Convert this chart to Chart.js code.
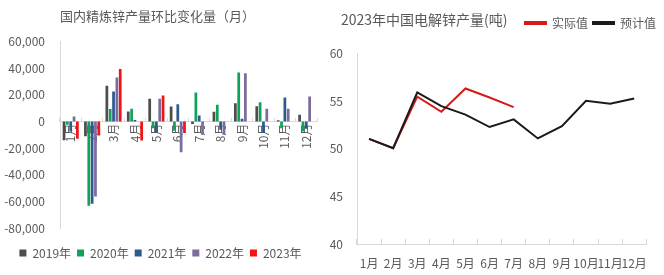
<!DOCTYPE html>
<html>
<head>
<meta charset="utf-8">
<script src="https://cdn.jsdelivr.net/npm/chart.js@4"></script>
<style>
  html, body { margin: 0; padding: 0; background: #fff; }
  #wrap { position: relative; width: 664px; height: 275px; overflow: hidden; }
  #barChart { position: absolute; left: 0; top: 0; }
  #lineChart { position: absolute; left: 330px; top: 0; }
</style>
</head>
<body>
<div id="wrap">
  <canvas id="barChart" width="330" height="275"></canvas>
  <canvas id="lineChart" width="334" height="275"></canvas>
</div>
<script>
// month-on-month change of refined zinc output (t)
const months = ['1月', '2月', '3月', '4月', '5月', '6月', '7月', '8月', '9月', '10月', '11月', '12月'];
const change2019 = [-14000, -11000, 26800, 7500, 17000, 11300, -1800, 7300, 13700, 11500, 1000, 5000];
const change2020 = [-2500, -63200, 9300, 9500, -5000, -7000, 21700, 12500, 36700, 14500, -5000, -7500];
const change2021 = [-7500, -61700, 22500, 1200, -8200, 13000, 4500, -6200, 2000, -8700, 18000, -5500];
const change2022 = [3700, -56300, 33000, 0, 17000, -23200, -10000, -10000, 36200, 9500, 9500, 18700];
const change2023 = [-13000, -10500, 39500, -14200, 19500, -8700, null, null, null, null, null, null];
const yearLabels = ['2019年', '2020年', '2021年', '2022年', '2023年'];
const yearColors = ['#4d4d4d', '#12a15a', '#2f5a8e', '#7d6b9e', '#f01414'];

// 2023 electrolytic zinc output
const actual2023 = [51.05, 50.07, 55.5, 53.9, 56.35, 55.4, 54.4, null, null, null, null, null];
const forecast2023 = [51.05, 50.07, 55.94, 54.5, 53.6, 52.3, 53.1, 51.1, 52.4, 55.05, 54.75, 55.3];

Chart.defaults.font.family = '"Noto Sans CJK SC", "Noto Sans", sans-serif';
Chart.defaults.color = '#595959';

// let the y tick labels use the space left of the title indent
const widenYScale = {
  id: 'widenYScale',
  afterLayout: function (chart) {
    chart.scales.y.left = 0;
  }
};

document.addEventListener('DOMContentLoaded', function () {
  // Grouped bar chart
  const barCtx = document.getElementById('barChart').getContext('2d');
  const series = [change2019, change2020, change2021, change2022, change2023];
  new Chart(barCtx, {
    type: 'bar',
    data: {
      labels: months,
      datasets: series.map(function (d, i) {
        return {
          label: yearLabels[i],
          data: d,
          backgroundColor: yearColors[i],
          borderWidth: 0,
          categoryPercentage: 0.78,
          barPercentage: 0.82
        };
      })
    },
    options: {
      responsive: false,
      animation: false,
      layout: { padding: { left: 4, right: 13, top: 4, bottom: 6 } },
      plugins: {
        title: {
          display: true,
          text: '国内精炼锌产量环比变化量（月）',
          align: 'start',
          fullSize: false,
          color: '#595959',
          font: { size: 13, weight: 'normal' },
          padding: { top: 4, bottom: 18 }
        },
        legend: {
          position: 'bottom',
          // empty legend title only keeps a gap above the legend row
          title: { display: true, text: '', font: { size: 10 }, padding: { top: 1, bottom: 0 } },
          labels: { boxWidth: 7, boxHeight: 7, padding: 6, font: { size: 12 }, color: '#595959' }
        },
        tooltip: { enabled: false }
      },
      scales: {
        x: {
          position: { y: 0 },
          grid: { display: true, drawOnChartArea: false, offset: true, tickLength: -4, color: '#d9d9d9' },
          border: { color: '#d9d9d9' },
          ticks: { minRotation: 90, maxRotation: 90, autoSkip: false, padding: 6, font: { size: 12 }, color: '#595959' }
        },
        y: {
          min: -80000,
          max: 60000,
          afterFit: function (s) { s.width = 56; },
          grid: { display: false, drawTicks: false },
          border: { color: '#d9d9d9' },
          ticks: {
            stepSize: 20000,
            padding: 15,
            font: { size: 12 },
            color: '#595959',
            callback: function (v) { return v.toLocaleString('en-US'); }
          }
        }
      }
    }
  });

  // Line chart
  const lineCtx = document.getElementById('lineChart').getContext('2d');
  new Chart(lineCtx, {
    type: 'line',
    data: {
      labels: months,
      datasets: [{
        label: '实际值',
        data: actual2023,
        borderColor: '#d41a1a',
        backgroundColor: '#d41a1a',
        borderWidth: 2,
        pointRadius: 0,
        order: 1
      }, {
        label: '预计值',
        data: forecast2023,
        borderColor: '#1a1a1a',
        backgroundColor: '#1a1a1a',
        borderWidth: 2,
        pointRadius: 0,
        order: 0
      }]
    },
    options: {
      responsive: false,
      animation: false,
      layout: { padding: { left: 11, right: 3, top: 12, bottom: 5 } },
      plugins: {
        legend: {
          position: 'top',
          align: 'end',
          labels: {
            boxWidth: 21,
            boxHeight: 2,
            padding: 5,
            font: { size: 12 },
            color: '#595959',
            sort: function (a, b) { return a.datasetIndex - b.datasetIndex; }
          }
        },
        title: {
          display: true,
          text: '2023年中国电解锌产量(吨)',
          align: 'start',
          weight: 500,
          color: '#595959',
          font: { size: 14, weight: 'normal' },
          padding: { top: -28, bottom: 26 }
        },
        tooltip: { enabled: false }
      },
      scales: {
        x: {
          offset: true,
          afterFit: function (s) { s.height = 26; },
          grid: { display: true, drawOnChartArea: false, offset: true, tickLength: -5, color: '#d9d9d9' },
          border: { color: '#d9d9d9' },
          ticks: { maxRotation: 0, autoSkip: false, padding: 17, font: { size: 12 }, color: '#595959' }
        },
        y: {
          min: 40,
          max: 60,
          afterFit: function (s) { s.width = 16; },
          grid: { display: false, drawTicks: false },
          border: { color: '#d9d9d9' },
          ticks: { stepSize: 5, padding: 14, font: { size: 12 }, color: '#595959' }
        }
      }
    },
    plugins: [widenYScale]
  });
});
</script>
</body>
</html>
